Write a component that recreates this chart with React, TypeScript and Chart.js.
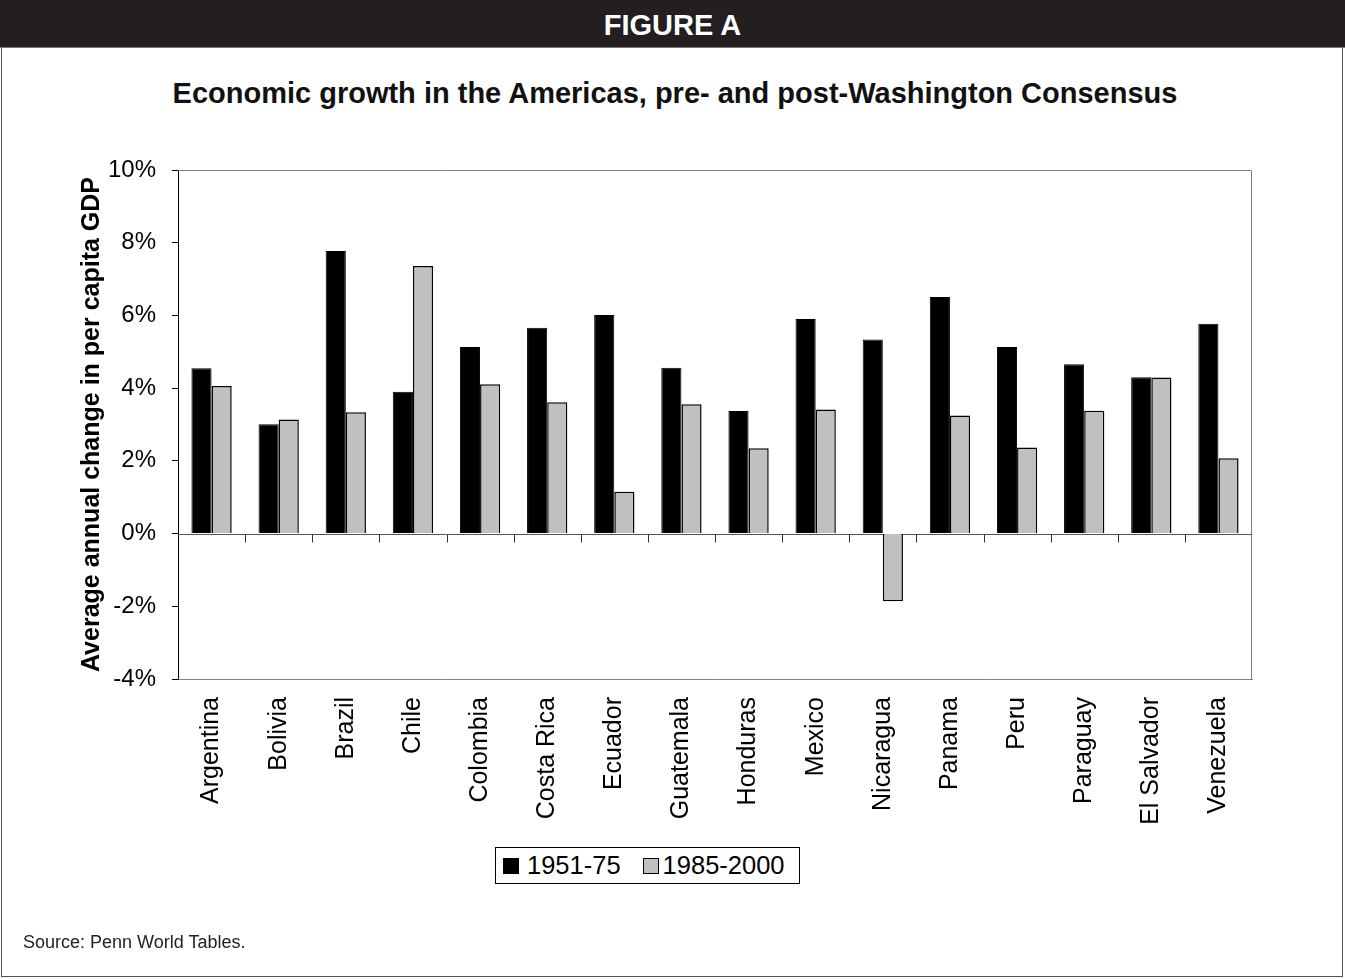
import React, { useEffect, useRef } from "react";
import { Chart, registerables } from "chart.js";

Chart.register(...registerables);

const countries = [
  "Argentina", "Bolivia", "Brazil", "Chile", "Colombia", "Costa Rica", "Ecuador", "Guatemala",
  "Honduras", "Mexico", "Nicaragua", "Panama", "Peru", "Paraguay", "El Salvador", "Venezuela",
];
const growth1951to75 = [4.55, 3.01, 7.77, 3.9, 5.13, 5.66, 6.01, 4.56, 3.37, 5.9, 5.34, 6.51, 5.13, 4.66, 4.3, 5.77];
const growth1985to2000 = [4.06, 3.14, 3.34, 7.36, 4.11, 3.61, 1.15, 3.56, 2.35, 3.41, -1.86, 3.25, 2.37, 3.38, 4.29, 2.07];
const seriesLabels = ["1951-75", "1985-2000"];
const yMin = -4;
const yMax = 10;
const yStep = 2;

const FONT = "Arial, 'Liberation Sans', Helvetica, sans-serif";

const framePlugin = {
  id: "framePlugin",
  beforeDatasetsDraw(chart: any) {
    const { ctx, chartArea } = chart;
    const y = chart.scales.y;
    const x = chart.scales.x;
    ctx.save();
    ctx.strokeStyle = "#808080";
    ctx.lineWidth = 1;
    ctx.beginPath();
    ctx.moveTo(chartArea.left, chartArea.top + 0.5);
    ctx.lineTo(chartArea.right - 0.5, chartArea.top + 0.5);
    ctx.lineTo(chartArea.right - 0.5, chartArea.bottom);
    ctx.stroke();
    const zy = Math.round(y.getPixelForValue(0)) + 0.5;
    ctx.strokeStyle = "#555555";
    ctx.beginPath();
    ctx.moveTo(chartArea.left, zy);
    ctx.lineTo(chartArea.right, zy);
    ctx.stroke();
    ctx.strokeStyle = "#333333";
    const n = x.ticks.length;
    for (let i = 1; i < n; i++) {
      const px = Math.round((x.getPixelForTick(i - 1) + x.getPixelForTick(i)) / 2) + 0.5;
      ctx.beginPath();
      ctx.moveTo(px, zy);
      ctx.lineTo(px, zy + 8);
      ctx.stroke();
    }
    ctx.restore();
  },
};

export default function App() {
  const canvasRef = useRef<HTMLCanvasElement | null>(null);

  useEffect(() => {
    document.body.style.margin = "0";
    const canvas = canvasRef.current;
    if (!canvas) return;
    const chart = new Chart(canvas, {
      type: "bar",
      data: {
        labels: countries,
        datasets: [
          {
            label: seriesLabels[0],
            data: growth1951to75,
            backgroundColor: "#000000",
            borderColor: "#000000",
            borderWidth: 1,
            categoryPercentage: 0.6,
            barPercentage: 1.0,
          },
          {
            label: seriesLabels[1],
            data: growth1985to2000,
            backgroundColor: "#c0c0c0",
            borderColor: "#000000",
            borderWidth: 1.5,
            categoryPercentage: 0.6,
            barPercentage: 1.0,
          },
        ],
      },
      options: {
        responsive: false,
        animation: false,
        devicePixelRatio: 1,
        layout: { padding: { top: 122, left: 0, right: 93, bottom: 0 } },
        plugins: {
          legend: { display: false },
          tooltip: { enabled: false },
          title: { display: false },
        },
        scales: {
          x: {
            type: "category",
            grid: { display: false, drawTicks: false },
            border: { display: true, color: "#808080", width: 1 },
            ticks: {
              color: "#000000",
              font: { family: FONT, size: 25 },
              minRotation: 90,
              maxRotation: 90,
              autoSkip: false,
              padding: 18,
            },
            afterFit(scale: any) {
              scale.height = 298;
            },
          },
          y: {
            min: yMin,
            max: yMax,
            grid: { drawOnChartArea: false, drawTicks: true, tickLength: 6, color: "#000000" },
            border: { display: true, color: "#000000", width: 1 },
            ticks: {
              stepSize: yStep,
              color: "#000000",
              font: { family: FONT, size: 24 },
              padding: 16,
              callback: (v: any) => `${v}%`,
            },
            title: {
              display: true,
              text: "Average annual change in per capita GDP",
              color: "#000000",
              font: { family: FONT, size: 25, weight: "bold" },
              padding: { top: 77, bottom: 0 },
            },
            afterFit(scale: any) {
              scale.width = 178;
            },
          },
        },
      },
      plugins: [framePlugin],
    } as any);
    return () => chart.destroy();
  }, []);

  const square = (bg: string, mr: number): React.CSSProperties => ({
    display: "inline-block",
    width: 16,
    height: 16,
    background: bg,
    border: "1px solid #000",
    boxSizing: "border-box",
    marginRight: mr,
  });

  return (
    <div style={{ position: "relative", width: 1345, height: 979, background: "#fff", fontFamily: FONT }}>
      <div
        style={{
          position: "absolute",
          left: 1,
          top: 0,
          width: 1342,
          height: 977,
          borderLeft: "1px solid #555",
          borderRight: "1px solid #555",
          borderBottom: "1px solid #555",
          boxSizing: "border-box",
        }}
      />
      <div
        style={{
          position: "absolute",
          left: 0,
          top: 0,
          width: 1345,
          height: 47,
          background: "#231f20",
          color: "#ffffff",
          fontWeight: "bold",
          fontSize: 29,
          lineHeight: "50px",
          textAlign: "center",
          borderBottom: "1px solid #777",
        }}
      >
        FIGURE A
      </div>
      <div
        style={{
          position: "absolute",
          left: 0,
          top: 75,
          width: 1350,
          textAlign: "center",
          fontSize: 29,
          lineHeight: "36px",
          fontWeight: "bold",
          color: "#111",
        }}
      >
        Economic growth in the Americas, pre- and post-Washington Consensus
      </div>
      <canvas
        ref={canvasRef}
        width={1345}
        height={929}
        style={{ position: "absolute", left: 0, top: 48, width: 1345, height: 929 }}
      />
      <div
        style={{
          position: "absolute",
          left: 495,
          top: 847,
          width: 305,
          height: 37,
          border: "1px solid #000",
          boxSizing: "border-box",
          display: "flex",
          alignItems: "center",
          paddingLeft: 7,
          fontSize: 25.5,
          color: "#000",
          background: "#fff",
          whiteSpace: "nowrap",
        }}
      >
        <span style={square("#000000", 8)} />
        <span style={{ marginRight: 22 }}>{seriesLabels[0]}</span>
        <span style={square("#c0c0c0", 4)} />
        <span>{seriesLabels[1]}</span>
      </div>
      <div style={{ position: "absolute", left: 23, top: 932, fontSize: 18, color: "#222" }}>
        Source: Penn World Tables.
      </div>
    </div>
  );
}
